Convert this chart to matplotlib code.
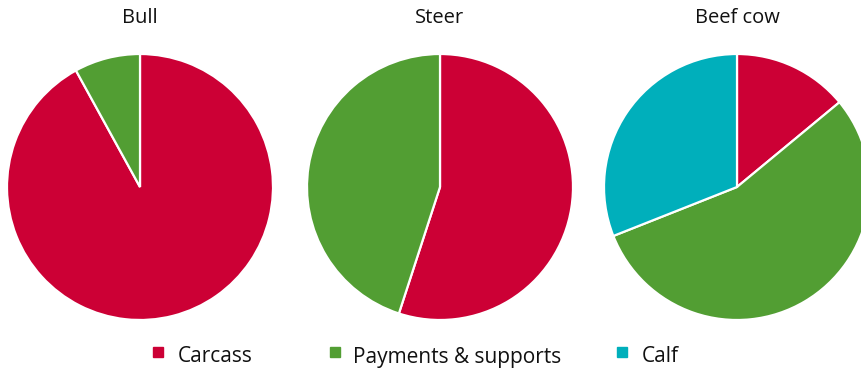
import matplotlib.pyplot as plt

plt.rcParams['font.family'] = ['Open Sans', 'DejaVu Sans']

# revenue split per animal type (percent)
animals = ['Bull', 'Steer', 'Beef cow']
sources = ['Carcass', 'Payments & supports', 'Calf']
bull = [92, 8]
steer = [55, 45]
beef_cow = [14, 55, 31]
colors = ['#CC0035', '#529E33', '#00AFBB']

W, H = 862, 369
fig = plt.figure(figsize=(W / 100, H / 100), dpi=100)

# pixel centres of each pie, radius ~133 px
centres = [(140, 187), (440, 187), (737, 187)]
r = 133
for name, vals, (cx, cy) in zip(animals, [bull, steer, beef_cow], centres):
    ax = fig.add_axes([(cx - r) / W, (H - cy - r) / H, 2 * r / W, 2 * r / H])
    ax.pie(vals, colors=colors[:len(vals)], startangle=90, counterclock=False,
           radius=1.0, wedgeprops=dict(edgecolor='white', linewidth=1.6))
    ax.set_xlim(-1, 1)
    ax.set_ylim(-1, 1)
    ax.set_aspect('equal')
    ax.axis('off')
    fig.text(cx / W, 1 - 18 / H, name, ha='center', va='center', fontsize=14.5, color='#111111')

# legend along the bottom
legend_pos = [(158, 178), (335, 353), (622, 642)]
for label, col, (mx, tx) in zip(sources, colors, legend_pos):
    fig.patches.append(plt.Rectangle(((mx - 5) / W, 1 - (352 + 5) / H), 10 / W, 10 / H,
                                     transform=fig.transFigure, color=col))
    fig.text(tx / W, 1 - 357 / H, label, ha='left', va='center', fontsize=15, color='#111111')

fig.savefig('out.png', dpi=100)
